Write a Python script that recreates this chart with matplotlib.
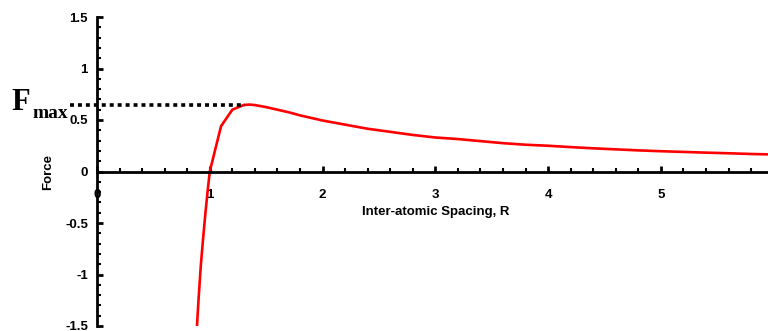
import matplotlib.pyplot as plt
from matplotlib.ticker import MultipleLocator

# Force vs inter-atomic spacing
spacing = [0.88, 0.90, 0.92, 0.94, 0.96, 0.98, 1.00, 1.10, 1.20, 1.30, 1.35, 1.40,
           1.50, 1.60, 1.70, 1.80, 1.90, 2.00, 2.20, 2.40, 2.60, 2.80, 3.00,
           3.20, 3.40, 3.60, 3.80, 4.00, 4.20, 4.40, 4.60, 4.80, 5.00, 5.20,
           5.40, 5.60, 5.80, 6.00]
force = [-1.62, -1.25, -0.92, -0.66, -0.42, -0.20, 0.00, 0.44, 0.60, 0.645, 0.65, 0.645,
         0.625, 0.60, 0.575, 0.545, 0.52, 0.495, 0.455, 0.415, 0.385, 0.355, 0.33,
         0.315, 0.295, 0.275, 0.26, 0.25, 0.237, 0.225, 0.215, 0.205, 0.197, 0.19,
         0.183, 0.177, 0.17, 0.165]
fmax = 0.65
fmax_r = 1.31

plt.rcParams['font.family'] = 'Liberation Sans'
plt.rcParams['font.weight'] = 'bold'

fig = plt.figure(figsize=(7.68, 3.31), dpi=100)
ax = fig.add_axes([97 / 768, 5 / 331, 1 - 97 / 768, 309 / 331])

ax.plot(spacing, force, color='#ff0000', lw=1.9)

# dotted line for Fmax, runs out past the y axis
ax.plot([-0.24, fmax_r], [fmax, fmax], color='black', lw=2.6,
        linestyle=(0, (1.1, 1.1)), clip_on=False)
ax.text(-0.755, 0.595, 'F', family='Liberation Serif', fontweight='bold',
        fontsize=22, ha='left', va='baseline')
ax.text(-0.575, 0.52, 'max', family='Liberation Serif', fontweight='bold',
        fontsize=14, ha='left', va='baseline')

ax.set_xlim(0, 5.95)
ax.set_ylim(-1.5, 1.5)

ax.spines['left'].set_position(('data', 0))
ax.spines['bottom'].set_position(('data', 0))
ax.spines['top'].set_visible(False)
ax.spines['right'].set_visible(False)
for s in ['left', 'bottom']:
    ax.spines[s].set_linewidth(2.0)

ax.xaxis.set_major_locator(MultipleLocator(1))
ax.xaxis.set_minor_locator(MultipleLocator(0.2))
ax.yaxis.set_major_locator(MultipleLocator(0.5))
ax.yaxis.set_minor_locator(MultipleLocator(0.1))
ax.set_xticks([0, 1, 2, 3, 4, 5])
ax.set_xticklabels(['0', '1', '2', '3', '4', '5'])
ax.set_yticks([-1.5, -1, -0.5, 0, 0.5, 1, 1.5])
ax.set_yticklabels(['-1.5', '-1', '-0.5', '0', '0.5', '1', '1.5'])

ax.tick_params(axis='both', which='major', direction='in', length=4.5, width=2,
               labelsize=9.5)
ax.tick_params(axis='both', which='minor', direction='in', length=3, width=1.5)
ax.tick_params(axis='x', which='major', pad=12.5)
ax.tick_params(axis='y', which='major', pad=6.5)

ax.text(3.0, -0.395, 'Inter-atomic Spacing, R', fontsize=9.5, ha='center',
        va='center')
ax.text(-0.435, 0, 'Force', fontsize=9.5, rotation=90, ha='center',
        va='center')

fig.savefig('out.png', dpi=100)
